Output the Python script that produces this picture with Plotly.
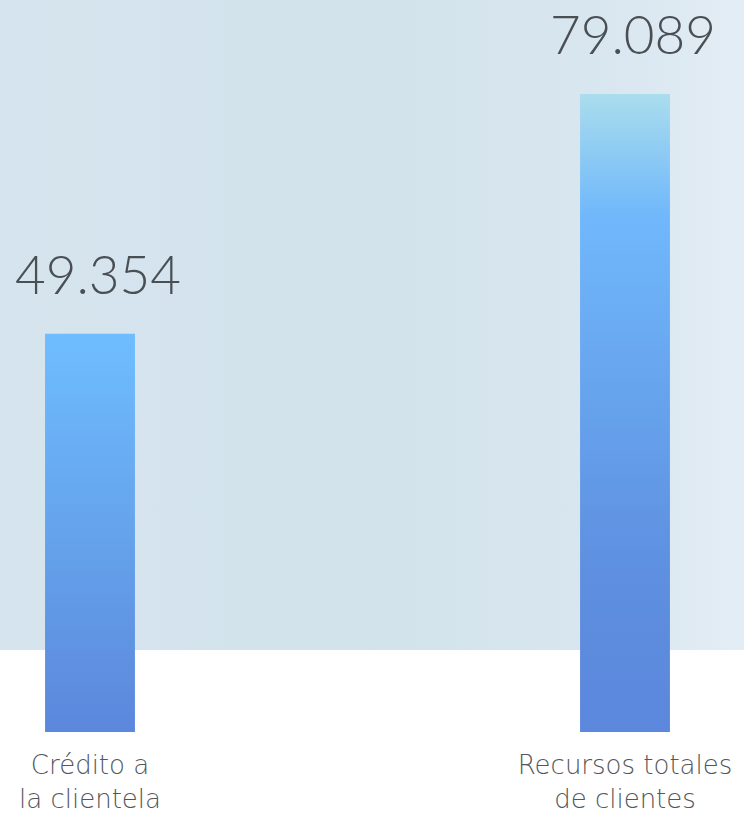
import plotly.graph_objects as go

categories = ["Crédito a<br>la clientela", "Recursos totales<br>de clientes"]
values = [49354, 79089]
value_labels = ["49.354", "79.089"]

bar_scales = [
    [[0, "#5b87dc"], [0.5, "#65a3ec"], [1, "#6ebdfe"]],
    [[0, "#5b87dc"], [0.25, "#5e8fe0"], [0.81, "#70b8fb"], [1, "#aadded"]],
]

W, H = 744, 814
plot_bottom_px = 732
panel_bottom_px = 650
bar_w = 0.168
x_pos = [0, 1]
x_range = [-90 / 535, 1 + 119 / 535]
ymax = values[1] * plot_bottom_px / 638
panel_y0 = ymax * (plot_bottom_px - panel_bottom_px) / plot_bottom_px

fig = go.Figure()

# decorative background panel
fig.add_trace(go.Scatter(
    x=[x_range[0], x_range[1], x_range[1], x_range[0], x_range[0]],
    y=[panel_y0, panel_y0, ymax, ymax, panel_y0],
    mode="lines", line=dict(width=0), fill="toself",
    fillgradient=dict(type="horizontal",
                      colorscale=[[0, "#d6e4ee"], [0.5, "#d2e3ec"], [0.8, "#d8e6ef"], [1, "#e3edf5"]]),
    hoverinfo="skip", showlegend=False,
))

for i, (xc, v) in enumerate(zip(x_pos, values)):
    fig.add_trace(go.Scatter(
        x=[xc - bar_w / 2, xc + bar_w / 2, xc + bar_w / 2, xc - bar_w / 2, xc - bar_w / 2],
        y=[0, 0, v, v, 0],
        mode="lines", line=dict(width=0), fill="toself",
        fillgradient=dict(type="vertical", colorscale=bar_scales[i]),
        hoverinfo="skip", showlegend=False,
    ))
    fig.add_annotation(x=xc, y=v, text=value_labels[i], showarrow=False,
                       yanchor="bottom", yshift=28, xshift=8, borderpad=0,
                       font=dict(family="Lato", size=53, color="#4a4f54", weight=300))

fig.update_layout(
    width=W, height=H,
    margin=dict(l=0, r=0, t=0, b=H - plot_bottom_px, autoexpand=False),
    paper_bgcolor="white", plot_bgcolor="rgba(0,0,0,0)",
    xaxis=dict(range=x_range, tickvals=x_pos, ticktext=categories,
               showgrid=False, zeroline=False, showline=False, ticks="",
               tickfont=dict(family="DejaVu Sans", size=26, color="#52575b", weight=300),
               ticklabelstandoff=15),
    yaxis=dict(range=[0, ymax], visible=False),
)
fig.write_html("out.html", post_script="document.body.style.margin='0';",
               config={"displayModeBar": False})
